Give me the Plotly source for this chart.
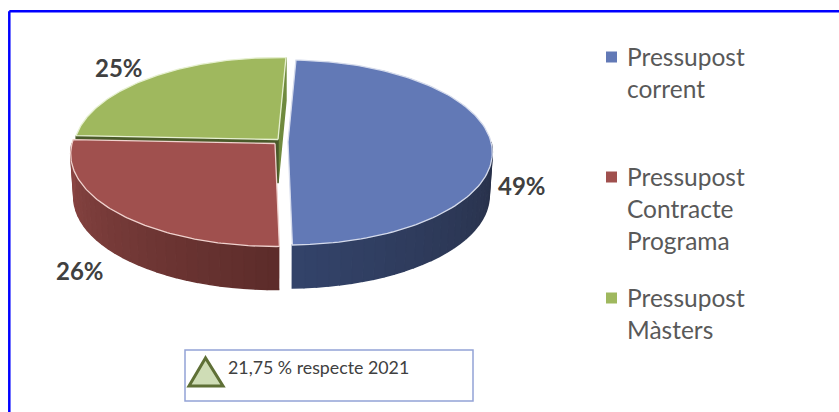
import math

import plotly.graph_objects as go

# Budget shares, clockwise from the top of the pie
categories = ["Pressupost corrent", "Pressupost Contracte Programa", "Pressupost Màsters"]
shares = [49, 26, 25]
share_labels = ["49%", "26%", "25%"]
legend_labels = ["Pressupost<br>corrent", "Pressupost<br>Contracte<br>Programa", "Pressupost<br>Màsters"]
note_text = "21,75 % respecte 2021"

top_colors = ["#6279B6", "#A0504E", "#9FB85E"]
edge_colors = ["#D5DBEC", "#F0D2CE", "#E6F0D0"]
side_light = ["#33436A", "#8C4644", "#7E9648"]
side_dark = ["#272F46", "#5C2C2A", "#4A5A2A"]

# Pie placement, in picture pixels (the axes run 0-839 and 412-0)
APEX = [(288, 142), (275, 143.5), (278, 139.5)]
SCALE_X, SCALE_Y, TILT = 203.0, 91.3, 0.1135
DEPTH = 43
BOTTOM_SHRINK = 0.985  # the lower rim is further from the eye
START_DEG = 2.5


def project(apex, deg, shrink=1.0, drop=0):
    """Perspective view of the point at deg degrees on the pie's rim."""
    a = math.radians(deg)
    u, v = math.sin(a), -math.cos(a)
    w = 1 - TILT * v
    return apex[0] + shrink * SCALE_X * u / w, apex[1] + drop + SCALE_Y * v / w


def mix(c1, c2, t):
    rgb1 = [int(c1[i:i + 2], 16) for i in (1, 3, 5)]
    rgb2 = [int(c2[i:i + 2], 16) for i in (1, 3, 5)]
    return "rgb(%d,%d,%d)" % tuple(round(a + (b - a) * t) for a, b in zip(rgb1, rgb2))


def poly(xs, ys, fill, line=None, width=0):
    return go.Scatter(
        x=xs, y=ys, mode="lines", fill="toself", fillcolor=fill,
        line=dict(color=line or fill, width=width if line else 1.5),
        hoverinfo="skip", showlegend=False,
    )


fig = go.Figure()

# Slice limits come from the shares
limits = []
angle = START_DEG
for s in shares:
    limits.append((angle, angle + s / sum(shares) * 360))
    angle = limits[-1][1]

# Cut faces of the green slice first, the other slices cover most of them
gx, gy = project(APEX[2], limits[2][1])
lx, ly = project(APEX[2], limits[2][0])
ax, ay = APEX[2]
fig.add_trace(poly([gx, gx, ax, ax], [gy, gy + DEPTH, ay + DEPTH, ay], "#6F8A3E"))
fig.add_trace(poly([lx, lx, ax, ax], [ly, ly + DEPTH, ay + DEPTH, ay], side_dark[2]))

# Rim of the blue and red slices, narrow strips for the shading
for i in (0, 1):
    a0, a1 = limits[i]
    first = max(a0, 90)
    last = min(a1, 270)
    steps = int((last - first) / 3)
    for k in range(steps):
        d0 = first + (last - first) * k / steps
        d1 = first + (last - first) * (k + 1) / steps
        x0, y0 = project(APEX[i], d0)
        x1, y1 = project(APEX[i], d1)
        x2, y2 = project(APEX[i], d0, BOTTOM_SHRINK, DEPTH)
        x3, y3 = project(APEX[i], d1, BOTTOM_SHRINK, DEPTH)
        # blue gets lighter towards the bottom, red darker
        t = (k + 0.5) / steps
        color = mix(side_dark[0], side_light[0], t) if i == 0 else mix(side_dark[1], side_light[1], t)
        fig.add_trace(poly([x0, x1, x3, x2], [y0, y1, y3, y2], color))

# Top faces
for i, (a0, a1) in enumerate(limits):
    pts = [project(APEX[i], a0 + (a1 - a0) * k / 120) for k in range(121)]
    xs = [APEX[i][0]] + [p[0] for p in pts] + [APEX[i][0]]
    ys = [APEX[i][1]] + [p[1] for p in pts] + [APEX[i][1]]
    fig.add_trace(poly(xs, ys, top_colors[i], edge_colors[i], 1.3))

# Legend swatches
swatch_x = [611.5, 611.5, 611.5]
swatch_y = [57, 177, 298]
fig.add_trace(go.Scatter(
    x=swatch_x, y=swatch_y, mode="markers",
    marker=dict(symbol="square", size=11, color=top_colors),
    hoverinfo="skip", showlegend=False,
))

font_name = "Lato"
annotations = []
for text, x, y in zip(share_labels, [521.5, 80, 118.5], [185, 270, 67]):
    annotations.append(dict(
        x=x, y=y, text="<b>%s</b>" % text, showarrow=False,
        font=dict(family=font_name, size=24, color="#404040"),
    ))
for text, y in zip(legend_labels, [39.5, 159.5, 280.5]):
    annotations.append(dict(
        x=625, y=y, text=text, showarrow=False, xanchor="left", yanchor="top", align="left",
        font=dict(family=font_name, size=24.5, color="#595959"),
    ))
annotations.append(dict(
    x=226, y=367, text=note_text, showarrow=False, xanchor="left",
    font=dict(family=font_name, size=17.8, color="#404040"),
))

shapes = [
    # outer frame
    dict(type="line", x0=9.3, y0=11.3, x1=839, y1=11.3, line=dict(color="#0000FF", width=2.5)),
    dict(type="line", x0=9.3, y0=11.3, x1=9.3, y1=412, line=dict(color="#0000FF", width=2.5)),
    # note box and its triangle
    dict(type="rect", x0=185, y0=350, x1=473, y1=401, line=dict(color="#93A3D6", width=1.5)),
    dict(type="path", path="M 205.5 358 L 189 386 L 223 386 Z",
         fillcolor="#CFDDB6", line=dict(color="#5F7036", width=3)),
]

fig.update_layout(
    width=839, height=412,
    margin=dict(l=0, r=0, t=0, b=0),
    paper_bgcolor="white", plot_bgcolor="white",
    xaxis=dict(range=[0, 839], visible=False, fixedrange=True),
    yaxis=dict(range=[412, 0], visible=False, fixedrange=True),
    annotations=annotations, shapes=shapes,
    showlegend=False,
)

# The page's default body margin would push the picture 8px in
fig.write_html(
    "out.html",
    config={"displayModeBar": False},
    post_script="document.body.style.margin='0';",
)
